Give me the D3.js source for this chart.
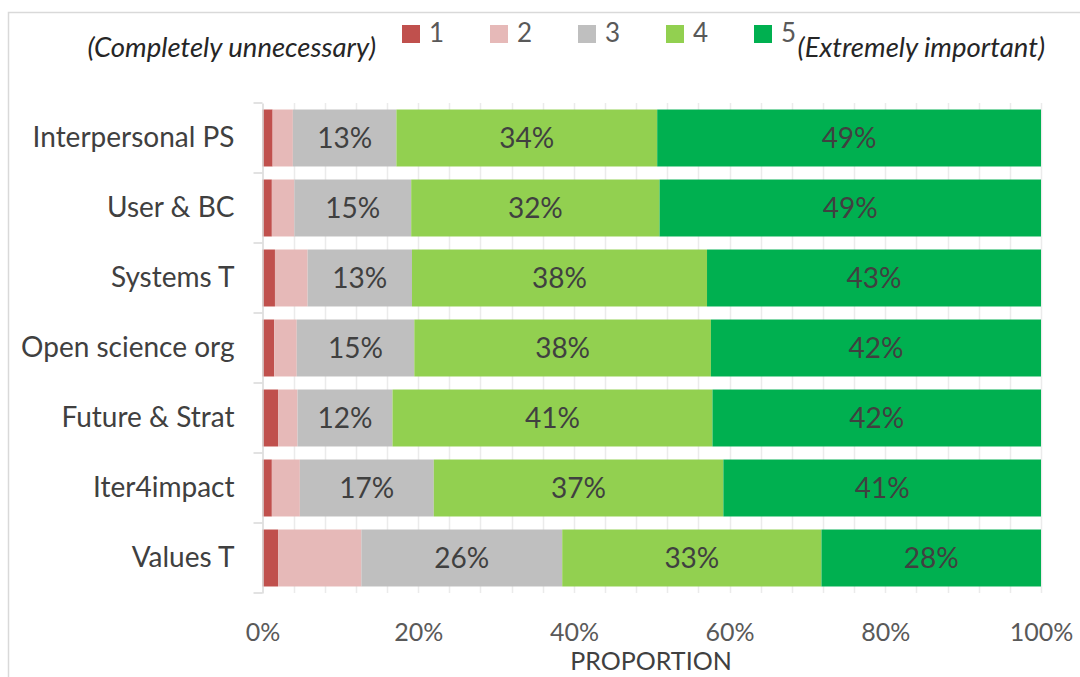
<html>
<script src="https://d3js.org/d3.v7.min.js"></script>
<style>
body {margin: 0; background: white;}
text {font-family: Lato, "Open Sans", sans-serif;}
</style>
<body>
<svg id="chart" width="1080" height="677"></svg>
<script>
// data (proportions)
var categories = ["Interpersonal PS", "User & BC", "Systems T", "Open science org", "Future & Strat", "Iter4impact", "Values T"];
var ratings = ["1", "2", "3", "4", "5"];
var score1 = [0.013, 0.012, 0.016, 0.015, 0.020, 0.012, 0.020];
var score2 = [0.026, 0.029, 0.042, 0.029, 0.025, 0.036, 0.107];
var score3 = [0.133, 0.150, 0.134, 0.151, 0.122, 0.172, 0.258];
var score4 = [0.335, 0.319, 0.379, 0.381, 0.411, 0.372, 0.333];
var score5 = [0.493, 0.490, 0.429, 0.424, 0.422, 0.408, 0.282];
var xTicks = [0, 0.2, 0.4, 0.6, 0.8, 1];
var colors = ["#c0504d", "#e6b9b8", "#bfbfbf", "#92d050", "#00b050"];

var series = [score1, score2, score3, score4, score5];
var rows = categories.map(function(c, i) {
    var r = {cat: c};
    ratings.forEach(function(k, j) { r[k] = series[j][i]; });
    return r;
});

var svg = d3.select("#chart");

// chart border (cut off at right/bottom like the original)
svg.append("rect")
    .attr("x", 8.5).attr("y", 12.5)
    .attr("width", 1200).attr("height", 800)
    .style("fill", "none").style("stroke", "#d9d9d9").style("stroke-width", 1.5);

// plot area
var plotL = 262.5, plotR = 1041, plotT = 103, plotB = 593;
var xscale = d3.scaleLinear().domain([0, 1]).range([plotL, plotR]);
var yscale = d3.scaleBand().domain(categories).range([plotT, plotB]).paddingInner(0.186).paddingOuter(0.093);

// gridlines every 4%
svg.append("g").selectAll("line")
    .data(d3.range(1, 26).map(function(d) { return d * 0.04; }))
    .enter().append("line")
    .attr("x1", function(d) { return Math.round(xscale(d)) + 0.5; })
    .attr("x2", function(d) { return Math.round(xscale(d)) + 0.5; })
    .attr("y1", plotT).attr("y2", plotB)
    .style("stroke", "#ebebeb").style("stroke-width", 1.5);

// bars
var stack = d3.stack().keys(ratings)(rows);
var layers = svg.append("g").selectAll("g")
    .data(stack)
    .enter().append("g")
    .style("fill", function(d, i) { return colors[i]; });

layers.selectAll("rect")
    .data(function(d) { return d; })
    .enter().append("rect")
    .attr("x", function(d) { return xscale(d[0]); })
    .attr("y", function(d) { return yscale(d.data.cat); })
    .attr("width", function(d) { return xscale(d[1]) - xscale(d[0]); })
    .attr("height", yscale.bandwidth());

// value labels for 3, 4, 5
stack.forEach(function(layer, i) {
    if (i < 2) return;
    svg.append("g").selectAll("text")
        .data(layer)
        .enter().append("text")
        .attr("x", function(d) { return (xscale(d[0]) + xscale(d[1])) / 2; })
        .attr("y", function(d) { return yscale(d.data.cat) + yscale.bandwidth() / 2; })
        .attr("dy", "0.36em")
        .attr("text-anchor", "middle")
        .style("font-size", "28px")
        .style("fill", "#404040")
        .text(function(d) { return Math.round((d[1] - d[0]) * 100) + "%"; });
});

// category axis
var yAxis = svg.append("g")
    .attr("transform", "translate(" + plotL + ",0)")
    .call(d3.axisLeft(yscale).tickSize(0).tickPadding(28));
yAxis.select(".domain").style("stroke", "#d9d9d9").style("stroke-width", 1.5);
yAxis.selectAll("text").style("font-size", "28px").style("fill", "#404040").attr("font-family", null);
// ticks between categories
svg.append("g").selectAll("line")
    .data(d3.range(0, categories.length + 1))
    .enter().append("line")
    .attr("x1", plotL - 9).attr("x2", plotL)
    .attr("y1", function(i) { return plotT + i * yscale.step(); })
    .attr("y2", function(i) { return plotT + i * yscale.step(); })
    .style("stroke", "#d9d9d9").style("stroke-width", 1.5);

// value axis
var xAxis = svg.append("g")
    .attr("transform", "translate(0," + plotB + ")")
    .call(d3.axisBottom(xscale).tickValues(xTicks).tickFormat(d3.format(".0%")).tickSize(0).tickPadding(30));
xAxis.select(".domain").remove();
xAxis.selectAll("text").style("font-size", "25px").style("fill", "#595959").attr("font-family", null);

svg.append("text")
    .attr("x", 651).attr("y", 670)
    .attr("text-anchor", "middle")
    .style("font-size", "25px").style("fill", "#404040")
    .text("PROPORTION");

// legend
var legend = svg.append("g").selectAll("g")
    .data(ratings)
    .enter().append("g")
    .attr("transform", function(d, i) { return "translate(" + (402 + i * 88) + ",25)"; });
legend.append("rect").attr("width", 18).attr("height", 18)
    .style("fill", function(d, i) { return colors[i]; });
legend.append("text").attr("x", 27).attr("y", 17)
    .style("font-size", "26px").style("fill", "#595959")
    .text(function(d) { return d; });

svg.append("text")
    .attr("x", 376).attr("y", 57)
    .attr("text-anchor", "end")
    .style("font-size", "27.5px").style("font-style", "italic").style("fill", "#262626")
    .text("(Completely unnecessary)");
svg.append("text")
    .attr("x", 1045).attr("y", 57)
    .attr("text-anchor", "end")
    .style("font-size", "27.5px").style("font-style", "italic").style("fill", "#262626")
    .text("(Extremely important)");
</script>
</body>
</html>
